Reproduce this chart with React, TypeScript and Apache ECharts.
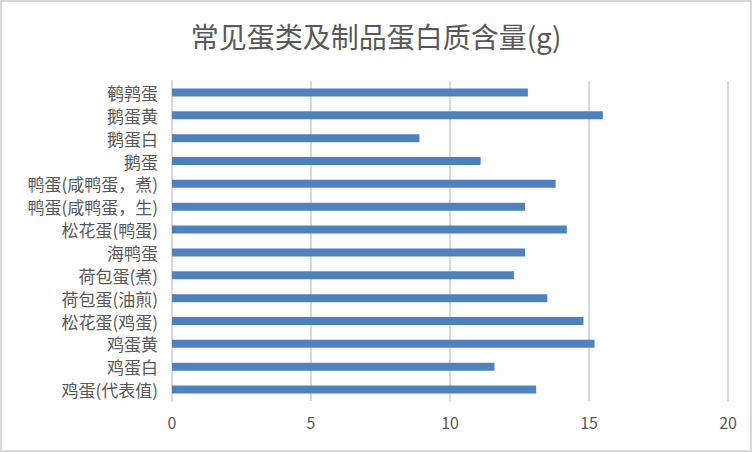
import React, { useEffect, useRef } from "react";
import * as echarts from "echarts";

// categories listed bottom to top, as the y axis draws them
const categories = [
  "鸡蛋(代表值)",
  "鸡蛋白",
  "鸡蛋黄",
  "松花蛋(鸡蛋)",
  "荷包蛋(油煎)",
  "荷包蛋(煮)",
  "海鸭蛋",
  "松花蛋(鸭蛋)",
  "鸭蛋(咸鸭蛋，生)",
  "鸭蛋(咸鸭蛋，煮)",
  "鹅蛋",
  "鹅蛋白",
  "鹅蛋黄",
  "鹌鹑蛋",
];
const protein = [13.1, 11.6, 15.2, 14.8, 13.5, 12.3, 12.7, 14.2, 12.7, 13.8, 11.1, 8.9, 15.5, 12.8];
const xTicks = { min: 0, max: 20, interval: 5 };

const font = "'Noto Sans CJK SC', 'Noto Sans', sans-serif";

const App: React.FC = () => {
  const chartRef = useRef<HTMLDivElement>(null);

  useEffect(() => {
    document.body.style.margin = "0";
    if (!chartRef.current) return;
    const chart = echarts.init(chartRef.current, undefined, { renderer: "svg" });
    chart.setOption({
      animation: false,
      backgroundColor: "#ffffff",
      title: {
        text: "常见蛋类及制品蛋白质含量(g)",
        left: "center",
        top: 15,
        textStyle: { fontFamily: font, fontSize: 28, fontWeight: "normal", color: "#595959" },
      },
      grid: { left: 170, right: 22, top: 79, bottom: 49, containLabel: false },
      xAxis: {
        type: "value",
        min: xTicks.min,
        max: xTicks.max,
        interval: xTicks.interval,
        axisLine: { show: false },
        axisTick: { show: false },
        splitLine: { lineStyle: { color: "#d9d9d9", width: 2 } },
        axisLabel: { fontFamily: font, fontSize: 16, color: "#595959", margin: 13 },
      },
      yAxis: {
        type: "category",
        data: categories,
        axisLine: { show: true, lineStyle: { color: "#d9d9d9", width: 2 } },
        axisTick: { show: false },
        axisLabel: { fontFamily: font, fontSize: 17, color: "#595959", margin: 14 },
      },
      series: [
        {
          type: "bar",
          data: protein,
          barWidth: 8,
          itemStyle: { color: "#4f81bd" },
        },
      ],
    });
    return () => chart.dispose();
  }, []);

  return (
    <div
      style={{
        position: "fixed",
        left: 0,
        top: 0,
        width: 752,
        height: 452,
        boxSizing: "border-box",
        border: "2px solid #d9d9d9",
        background: "#fff",
      }}
    >
      <div ref={chartRef} style={{ width: 748, height: 448 }} />
    </div>
  );
};

export default App;
